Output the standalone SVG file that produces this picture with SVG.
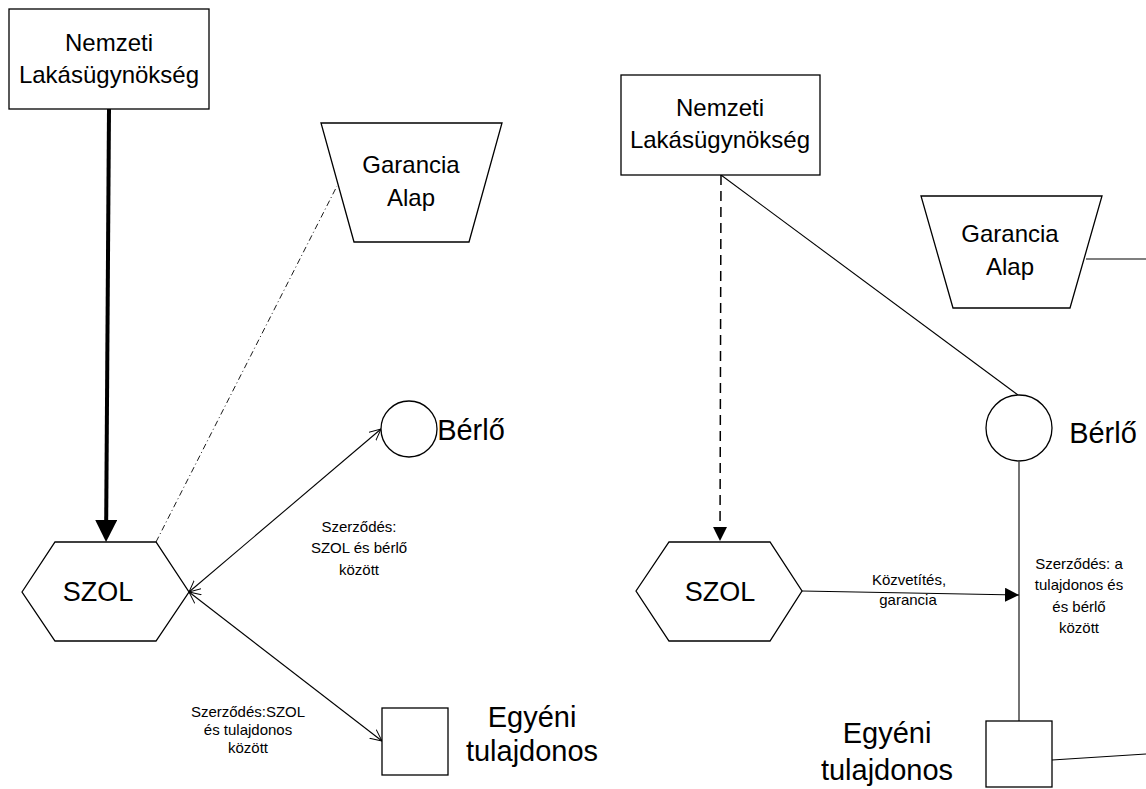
<svg xmlns="http://www.w3.org/2000/svg" width="1146" height="789" viewBox="0 0 1146 789">
<style>
.shape{fill:#fff;stroke:#000;stroke-width:1.3}
.t{font-family:"Liberation Sans",Arial,sans-serif;fill:#000;text-anchor:middle}
.big{font-size:24px}
.huge{font-size:29px}
.szol{font-size:27px}
.small{font-size:15px}
.ln{fill:none;stroke:#000;stroke-width:1.1}
</style>
<defs>
<marker id="thick" markerUnits="userSpaceOnUse" viewBox="0 0 22 22" refX="0" refY="11" markerWidth="22" markerHeight="22" orient="auto"><path d="M0,0 L22,11 L0,22 z" fill="#000"/></marker>
<marker id="fill" markerUnits="userSpaceOnUse" viewBox="0 0 14 14" refX="14" refY="7" markerWidth="14" markerHeight="14" orient="auto"><path d="M0,0 L14,7 L0,14 z" fill="#000"/></marker>
<marker id="open" markerUnits="userSpaceOnUse" viewBox="0 0 12 12" refX="11.5" refY="6" markerWidth="12" markerHeight="12" orient="auto-start-reverse"><path d="M0,0.5 L11.5,6 L0,11.5" fill="none" stroke="#000" stroke-width="1"/></marker>
</defs>

<g id="connectors">
<line class="ln" x1="109" y1="109" x2="106.2" y2="520" style="stroke-width:4" marker-end="url(#thick)"/>
<line class="ln" x1="156" y1="542" x2="337" y2="186" stroke-dasharray="6,3,1,3" style="stroke-width:0.9"/>
<line class="ln" x1="189" y1="592" x2="381" y2="429" marker-start="url(#open)" marker-end="url(#open)"/>
<line class="ln" x1="189" y1="592" x2="382" y2="741" marker-start="url(#open)" marker-end="url(#open)"/>
<line class="ln" x1="721" y1="175" x2="720" y2="541" stroke-dasharray="10,6" style="stroke-width:1.5" marker-end="url(#fill)"/>
<line class="ln" x1="721" y1="175" x2="1018" y2="395"/>
<line class="ln" x1="802" y1="591" x2="1019" y2="595" marker-end="url(#fill)"/>
<line class="ln" x1="1019" y1="462" x2="1019" y2="721"/>
<line class="ln" x1="1086" y1="259" x2="1146" y2="259"/>
<line class="ln" x1="1052" y1="760" x2="1146" y2="754"/>
</g>

<g id="nl-left">
<rect class="shape" x="9" y="9" width="200" height="100"/>
<text class="t big" x="109" y="51">Nemzeti</text>
<text class="t big" x="109" y="83">Lakásügynökség</text>
</g>
<g id="garancia-left">
<polygon class="shape" points="321,123 502,123 469,242 354,242"/>
<text class="t big" x="411" y="173">Garancia</text>
<text class="t big" x="411" y="206">Alap</text>
</g>
<g id="berlo-left">
<circle class="shape" cx="409" cy="429" r="28"/>
<text class="t huge" x="471" y="440">Bérlő</text>
</g>
<g id="szol-left">
<polygon class="shape" points="22,592 55,542 156,542 189,592 156,641 55,641"/>
<text class="t szol" x="98" y="601">SZOL</text>
</g>
<g id="egyeni-left">
<rect class="shape" x="382" y="708" width="66" height="67"/>
<text class="t huge" x="532" y="727">Egyéni</text>
<text class="t huge" x="532" y="761">tulajdonos</text>
</g>
<g id="label-left-1">
<text class="t small" x="359" y="532">Szerződés:</text>
<text class="t small" x="359" y="553">SZOL és bérlő</text>
<text class="t small" x="359" y="575">között</text>
</g>
<g id="label-left-2">
<text class="t small" x="248" y="717">Szerződés:SZOL</text>
<text class="t small" x="248" y="735">és tulajdonos</text>
<text class="t small" x="248" y="753">között</text>
</g>

<g id="nl-right">
<rect class="shape" x="621" y="75" width="199" height="100"/>
<text class="t big" x="720" y="116">Nemzeti</text>
<text class="t big" x="720" y="148">Lakásügynökség</text>
</g>
<g id="garancia-right">
<polygon class="shape" points="921,196 1102,196 1070,308 953,308"/>
<text class="t big" x="1010" y="242">Garancia</text>
<text class="t big" x="1010" y="275">Alap</text>
</g>
<g id="berlo-right">
<circle class="shape" cx="1019" cy="428" r="33"/>
<text class="t huge" x="1103" y="443">Bérlő</text>
</g>
<g id="szol-right">
<polygon class="shape" points="636,591 669,542 770,542 802,591 770,641 669,641"/>
<text class="t szol" x="720" y="601">SZOL</text>
</g>
<g id="egyeni-right">
<rect class="shape" x="986" y="721" width="66" height="66"/>
<text class="t huge" x="887" y="743">Egyéni</text>
<text class="t huge" x="887" y="780">tulajdonos</text>
</g>
<g id="label-right-1">
<text class="t small" x="909" y="585">Közvetítés,</text>
<text class="t small" x="908" y="605">garancia</text>
</g>
<g id="label-right-2">
<text class="t small" x="1079" y="569">Szerződés: a</text>
<text class="t small" x="1079" y="590">tulajdonos és</text>
<text class="t small" x="1079" y="612">és bérlő</text>
<text class="t small" x="1079" y="633">között</text>
</g>
</svg>
